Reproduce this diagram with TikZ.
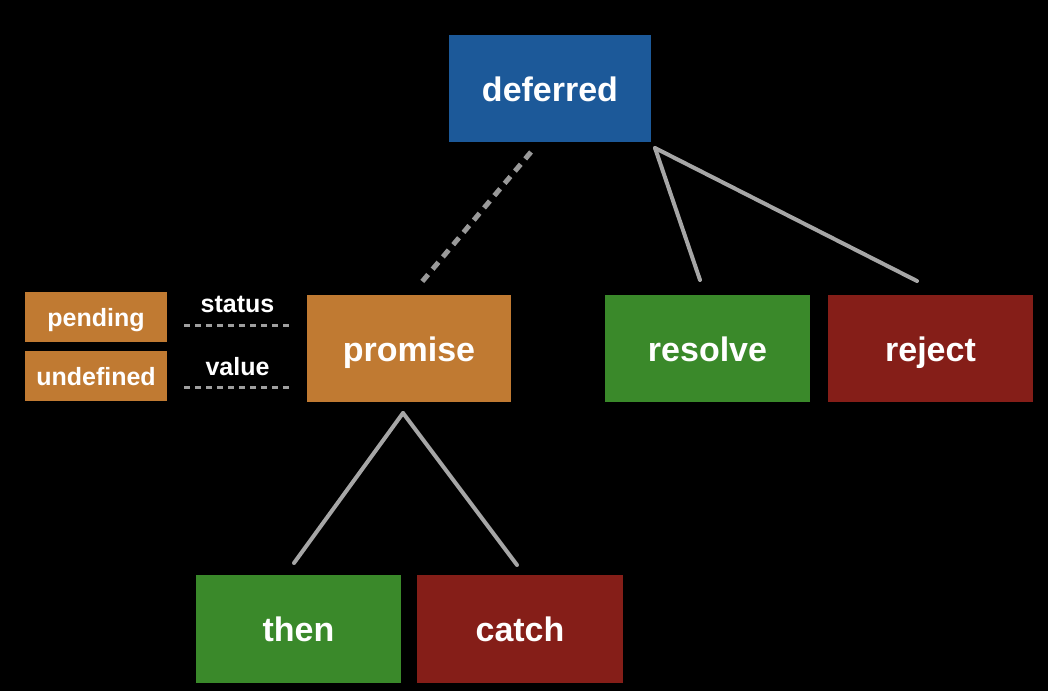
\documentclass[tikz,border=0pt]{standalone}
\usepackage{fontspec}
\setmainfont{Liberation Sans}
\usepackage{tikz}
\definecolor{defblue}{RGB}{28,89,153}
\definecolor{proorange}{RGB}{192,122,50}
\definecolor{okgreen}{RGB}{58,137,42}
\definecolor{errred}{RGB}{133,30,24}
\tikzset{
  box/.style={draw=none, text=white, font=\bfseries\fontsize{34}{38}\selectfont,
    minimum width=204pt, minimum height=107pt, inner sep=0pt,
    text height=25pt, text depth=0pt},
  smallbox/.style={box, font=\bfseries\fontsize{25}{28}\selectfont,
    minimum width=142pt, minimum height=50pt, text height=19pt},
  tag/.style={text=white, font=\bfseries\fontsize{25}{28}\selectfont, inner sep=0pt,
    text height=19pt, text depth=0pt},
  chalk/.style={draw=gray!70, line width=4pt, line cap=round},
  slot/.style={draw=gray!75, line width=3pt, dash pattern=on 6pt off 5pt},
  link/.style={draw=gray!80, line width=5pt, dash pattern=on 9pt off 7pt}
}
\begin{document}
\begin{tikzpicture}[x=1pt,y=-1pt]

  \fill[black] (0,0) rectangle (1048,691);
  \useasboundingbox (0,0) rectangle (1048,691);

  % top
  \node[box, fill=defblue, minimum width=202pt] (deferred) at (550,88.5) {deferred};

  % middle row
  \node[box, fill=proorange] (promise) at (409,348.5) {promise};
  \node[box, fill=okgreen, minimum width=205pt] (resolve) at (707.5,348.5) {resolve};
  \node[box, fill=errred, minimum width=205pt] (reject) at (930.5,348.5) {reject};

  % state of the promise
  \node[smallbox, fill=proorange] (pending) at (96,317) {pending};
  \node[smallbox, fill=proorange] (undef) at (96,376) {undefined};
  \node[tag] (status) at (237.5,302.5) {status};
  \node[tag] (value) at (237.5,365.5) {value};

  % bottom row
  \node[box, fill=okgreen, minimum width=205pt, minimum height=108pt] (then) at (298.5,629) {then};
  \node[box, fill=errred, minimum width=206pt, minimum height=108pt] (catch) at (520,629) {catch};

  % connector ends
  \coordinate (d1) at (531,152);
  \coordinate (p1) at (421,283);
  \coordinate (dtip) at (655,148);
  \coordinate (rs) at (700,280);
  \coordinate (rj) at (917,281);
  \coordinate (ptip) at (403,413);
  \coordinate (th) at (294,563);
  \coordinate (ca) at (517,565);
  \coordinate (s1) at (184,325);
  \coordinate (s2) at (292,325);
  \coordinate (v1) at (184,387);
  \coordinate (v2) at (292,387);

  \draw[link] (d1) -- (p1); %% deferred.promise
  \draw[chalk] (dtip) -- (rs); %% deferred->resolve
  \draw[chalk] (dtip) -- (rj); %% deferred->reject
  \draw[chalk] (ptip) -- (th); %% promise->then
  \draw[chalk] (ptip) -- (ca); %% promise->catch

  \draw[slot] (s1) -- (s2);
  \draw[slot] (v1) -- (v2);
\end{tikzpicture}
\end{document}
